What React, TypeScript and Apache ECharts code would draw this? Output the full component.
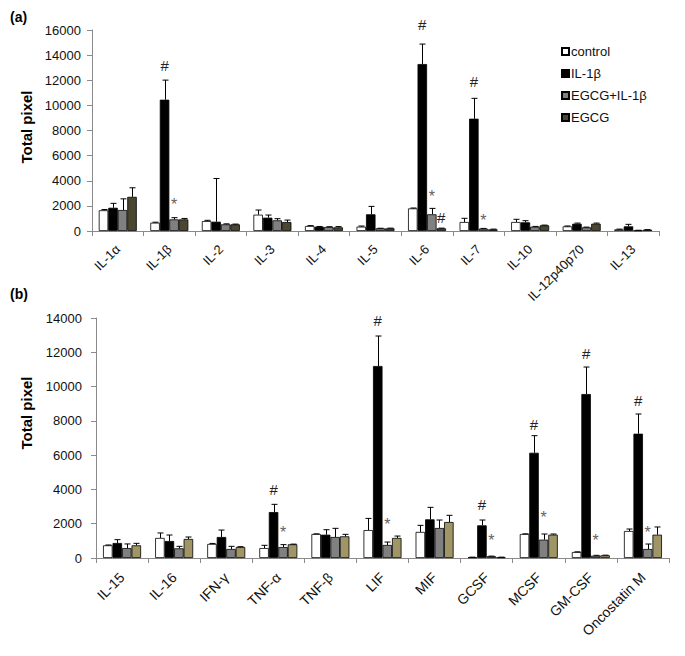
import React, { useEffect, useRef } from "react";
import * as echarts from "echarts";

const seriesNames = ["control", "IL-1β", "EGCG+IL-1β", "EGCG"];

const catsA = ["IL-1α", "IL-1β", "IL-2", "IL-3", "IL-4", "IL-5", "IL-6", "IL-7", "IL-10", "IL-12p40p70", "IL-13"];
const controlA = [1650, 660, 790, 1300, 400, 345, 1800, 716, 716, 370, 130];
const il1bA = [1850, 10450, 740, 1060, 340, 1330, 13290, 8940, 690, 580, 370];
const egcgIl1bA = [1670, 925, 530, 850, 320, 210, 1330, 185, 345, 290, 50];
const egcgA = [2720, 925, 530, 715, 290, 210, 210, 130, 450, 580, 100];
const controlErrA = [60, 40, 60, 370, 30, 50, 30, 295, 215, 30, 20];
const il1bErrA = [350, 1560, 3440, 210, 20, 630, 1590, 1620, 130, 50, 160];
const egcgIl1bErrA = [890, 135, 40, 130, 20, 10, 470, 20, 20, 20, 10];
const egcgErrA = [720, 75, 20, 155, 60, 20, 20, 20, 20, 50, 10];

const catsB = ["IL-15", "IL-16", "IFN-γ", "TNF-α", "TNF-β", "LIF", "MIF", "GCSF", "MCSF", "GM-CSF", "Oncostatin M"];
const controlB = [740, 1170, 820, 580, 1400, 1630, 1520, 40, 1400, 350, 1575];
const il1bB = [875, 990, 1225, 2680, 1360, 11200, 2255, 1905, 6140, 9565, 7250];
const egcgIl1bB = [580, 565, 525, 640, 1225, 760, 1750, 100, 1070, 135, 525];
const egcgB = [740, 1110, 640, 800, 1265, 1170, 2100, 40, 1360, 155, 1360];
const controlErrB = [20, 290, 30, 160, 10, 680, 385, 10, 10, 10, 115];
const il1bErrB = [195, 350, 405, 450, 290, 1750, 700, 310, 995, 1575, 1150];
const egcgIl1bErrB = [240, 115, 155, 140, 505, 170, 465, 10, 330, 20, 290];
const egcgErrB = [115, 115, 20, 10, 115, 110, 390, 10, 40, 10, 450];

// significance marks: [category, series index, y value, symbol]
const marksA: [string, number, number, string][] = [
  ["IL-1β", 1, 13170, "#"],
  ["IL-1β", 2, 2115, "*"],
  ["IL-6", 1, 16400, "#"],
  ["IL-6", 2, 2730, "*"],
  ["IL-6", 3, 1090, "#"],
  ["IL-7", 1, 11940, "#"],
  ["IL-7", 2, 820, "*"],
];
const marksB: [string, number, number, string][] = [
  ["TNF-α", 1, 4025, "#"],
  ["TNF-α", 2, 1460, "*"],
  ["LIF", 1, 13840, "#"],
  ["LIF", 2, 1945, "*"],
  ["GCSF", 1, 3110, "#"],
  ["GCSF", 2, 1030, "*"],
  ["MCSF", 1, 7775, "#"],
  ["MCSF", 2, 2390, "*"],
  ["GM-CSF", 1, 11955, "#"],
  ["GM-CSF", 2, 1030, "*"],
  ["Oncostatin M", 1, 9195, "#"],
  ["Oncostatin M", 2, 1515, "*"],
];

const FONT = "'Liberation Sans', Arial, sans-serif";
const BAR_W = 9.5;
const colorsA = ["#ffffff", "#000000", "#808080", "#4b4630"];
const colorsB = ["#ffffff", "#000000", "#808080", "#a09566"];

function buildPanel(
  idx: number,
  values: number[][],
  errs: number[][],
  marks: [string, number, number, string][],
  cats: string[],
  colors: string[]
) {
  const out: any[] = [];
  values.forEach((vals, s) => {
    out.push({
      type: "bar",
      name: seriesNames[s],
      xAxisIndex: idx,
      yAxisIndex: idx,
      data: vals,
      barWidth: BAR_W,
      barGap: "0%",
      itemStyle: { color: colors[s], borderColor: "#000", borderWidth: 0.8 },
    });
  });
  const errData: number[][] = [];
  values.forEach((vals, s) => {
    vals.forEach((v, c) => {
      errData.push([c, v, v + errs[s][c], s]);
    });
  });
  out.push({
    type: "custom",
    xAxisIndex: idx,
    yAxisIndex: idx,
    z: 5,
    encode: { x: 0, y: [1, 2] },
    data: errData,
    renderItem: (params: any, api: any) => {
      const c = api.value(0);
      const p0 = api.coord([c, api.value(1)]);
      const p1 = api.coord([c, api.value(2)]);
      const x = Math.round(p0[0] + (api.value(3) - 1.5) * BAR_W) + 0.5;
      return {
        type: "group",
        children: [
          { type: "line", shape: { x1: x, y1: p0[1], x2: x, y2: p1[1] }, style: { stroke: "#000", lineWidth: 1 } },
          { type: "line", shape: { x1: x - 3, y1: p1[1], x2: x + 3, y2: p1[1] }, style: { stroke: "#000", lineWidth: 1 } },
        ],
      };
    },
  });
  const markData = marks.map((m) => [cats.indexOf(m[0]), m[2], m[1]]);
  out.push({
    type: "custom",
    xAxisIndex: idx,
    yAxisIndex: idx,
    z: 6,
    clip: false,
    encode: { x: 0, y: 1 },
    data: markData,
    renderItem: (params: any, api: any) => {
      const p = api.coord([api.value(0), api.value(1)]);
      const sym = marks[params.dataIndex][3];
      const x = p[0] + (api.value(2) - 1.5) * BAR_W;
      return {
        type: "text",
        x,
        y: p[1],
        style: {
          text: sym,
          fill: sym === "#" ? "#222" : "#6a6060",
          fontSize: sym === "#" ? 15 : 16,
          fontFamily: FONT,
          align: "center",
          verticalAlign: "middle",
        },
      };
    },
  });
  return out;
}

function xAxisCfg(idx: number, cats: string[], fontSize: number, margin: number) {
  return {
    type: "category",
    gridIndex: idx,
    data: cats,
    axisLine: { lineStyle: { color: "#8a8a8a", width: 1 } },
    axisTick: { show: true, length: 5, lineStyle: { color: "#8a8a8a" } },
    axisLabel: { rotate: 45, margin, fontSize, color: "#111", fontFamily: FONT, interval: 0 },
    splitLine: { show: false },
  };
}

function yAxisCfg(idx: number, max: number, margin: number) {
  return {
    type: "value",
    gridIndex: idx,
    min: 0,
    max,
    interval: 2000,
    axisLine: { show: true, lineStyle: { color: "#8a8a8a", width: 1 } },
    axisTick: { show: true, length: 5, lineStyle: { color: "#8a8a8a" } },
    axisLabel: { fontSize: 13, color: "#111", fontFamily: FONT, margin, formatter: (v: number) => String(v) },
    splitLine: { show: false },
  };
}

export default function App() {
  const ref = useRef<HTMLDivElement>(null);
  useEffect(() => {
    if (!ref.current) return;
    const chart = echarts.init(ref.current, null, { renderer: "svg" });
    const option: any = {
      animation: false,
      backgroundColor: "#fff",
      textStyle: { fontFamily: FONT },
      grid: [
        { left: 92, top: 30, width: 567, height: 201 },
        { left: 96, top: 318, width: 573, height: 240 },
      ],
      xAxis: [xAxisCfg(0, catsA, 13, 16), xAxisCfg(1, catsB, 14, 17)],
      yAxis: [yAxisCfg(0, 16000, 11), yAxisCfg(1, 14000, 14)],
      legend: {
        data: seriesNames,
        orient: "vertical",
        left: 556,
        top: 40,
        itemWidth: 7,
        itemHeight: 7,
        itemGap: 9,
        icon: "rect",
        textStyle: { fontSize: 13, color: "#111", fontFamily: FONT, padding: [0, 0, 0, -3] },
      },
      graphic: [
        { type: "text", left: 10, top: 10, style: { text: "(a)", font: `bold 14px ${FONT}`, fill: "#000" } },
        { type: "text", left: 10, top: 287, style: { text: "(b)", font: `bold 14px ${FONT}`, fill: "#000" } },
        {
          type: "text",
          x: 26,
          y: 127,
          rotation: Math.PI / 2,
          style: { text: "Total pixel", font: `bold 15px ${FONT}`, fill: "#000", align: "center", verticalAlign: "middle" },
        },
        {
          type: "text",
          x: 26,
          y: 413,
          rotation: Math.PI / 2,
          style: { text: "Total pixel", font: `bold 15px ${FONT}`, fill: "#000", align: "center", verticalAlign: "middle" },
        },
      ],
      series: [
        ...buildPanel(
          0,
          [controlA, il1bA, egcgIl1bA, egcgA],
          [controlErrA, il1bErrA, egcgIl1bErrA, egcgErrA],
          marksA,
          catsA,
          colorsA
        ),
        ...buildPanel(
          1,
          [controlB, il1bB, egcgIl1bB, egcgB],
          [controlErrB, il1bErrB, egcgIl1bErrB, egcgErrB],
          marksB,
          catsB,
          colorsB
        ),
      ],
    };
    chart.setOption(option);
    return () => chart.dispose();
  }, []);
  return (
    <div
      ref={ref}
      style={{ position: "fixed", left: 0, top: 0, width: 685, height: 656, background: "#fff" }}
    />
  );
}
